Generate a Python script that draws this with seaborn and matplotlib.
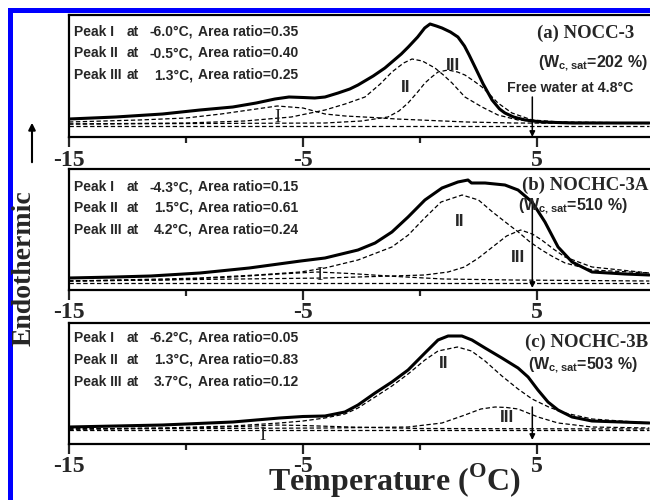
import matplotlib
matplotlib.use('Agg')
import matplotlib.pyplot as plt
import seaborn as sns
from matplotlib.patches import Rectangle, FancyArrowPatch

sns.set_style('white')
plt.rcParams['font.family'] = ['Liberation Sans', 'DejaVu Sans']
plt.rcParams['mathtext.fontset'] = 'custom'
plt.rcParams['mathtext.rm'] = 'Liberation Sans:bold'
plt.rcParams['mathtext.bf'] = 'Liberation Serif:bold'

# ---------------- data (temperature in degC, heat flow in arbitrary units) ----------------
# Panel (a) NOCC-3
a_total_T = [-15, -13, -11, -9.4, -8, -7, -6.2, -5.6, -5.0, -4.5, -4.06, -3.5, -3.0, -2.65, -2.0, -1.5, -1.2, -0.8,
             -0.5, -0.1, 0.2, 0.43, 0.7, 0.94, 1.3, 1.62, 1.9, 2.1, 2.35, 2.7, 3.08, 3.4, 3.63, 4.0, 4.49, 5.2, 6.5, 9.8]
a_total_Y = [18, 20, 23, 27, 30, 34, 38, 40, 39.5, 39, 40, 44, 48, 52, 61, 69, 75, 83,
             90, 100, 109, 113, 111, 109, 105, 100, 91, 82, 70, 53, 37, 28, 24, 20, 17, 15, 14, 14]
a_p1_T = [-15, -12, -10, -8.5, -7.3, -6.1, -5.0, -4.06, -3.2, -2, -1, 0.5, 2, 4, 9.8]
a_p1_Y = [15, 17, 19, 23, 27, 31, 29, 23, 21, 19.5, 18, 16.5, 15, 14, 13.5]
a_p2_T = [-15, -10, -7.5, -5.5, -4.06, -3.2, -2.35, -1.7, -1.2, -0.7, -0.34, 0.1, 0.64, 1.0, 1.37, 1.92, 2.65, 3.33, 4.19, 5.5, 9.8]
a_p2_Y = [13, 14, 16, 20, 27, 33, 40, 53, 65, 74, 78, 76, 69, 62, 54, 40, 30, 22, 17, 15, 14]
a_p3_T = [-15, -4.06, -2.5, -1.37, -0.9, -0.51, -0.1, 0.21, 0.5, 0.77, 1.2, 1.6, 1.92, 2.3, 2.65, 3.0, 3.33, 3.93, 4.79, 6, 9.8]
a_p3_Y = [13, 14, 16, 20, 26, 34, 45, 54, 60, 65, 67, 65, 62, 56, 50, 42, 34, 24, 17, 15, 14]
a_base_T = [-15, 9.8]
a_base_Y = [11, 11]

# Panel (b) NOCHC-3A
b_total_T = [-15, -13, -11.5, -9.4, -7.3, -5.1, -4.06, -2.65, -1.92, -1.2, -0.51, 0.21, 0.94, 1.62, 2.05, 2.2,
             2.78, 3.63, 4.19, 4.79, 5.34, 5.9, 6.5, 7.35, 8.76, 9.8]
b_total_Y = [12, 13, 14, 17, 22, 29, 32, 40, 47, 58, 73, 90, 102, 108, 110, 107,
             107, 105, 100, 88, 68, 43, 28, 18, 16, 15]
b_p1_T = [-15, -11, -8, -6, -4.4, -3, -1, 1, 4, 9.8]
b_p1_Y = [9, 10, 13, 16, 18, 16.5, 13.5, 11, 10, 9]
b_p2_T = [-15, -11, -9.4, -7, -5.1, -4.06, -2.65, -1.2, -0.5, 0.2, 0.9, 1.8, 2.5, 3.1, 3.7, 4.2, 4.7, 5.2, 5.7, 6.2, 7.35, 9.8]
b_p2_Y = [9, 11, 12, 15, 18, 22, 30, 43, 55, 72, 88, 95, 90, 78, 67, 58, 48, 40, 33, 27, 20, 17]
b_p3_T = [-15, -4.06, 0.2, 1.2, 1.9, 2.5, 3.1, 3.7, 4.3, 4.8, 5.2, 5.7, 6.2, 7.35, 9.8]
b_p3_Y = [9, 12, 15, 18, 23, 32, 43, 54, 60, 56, 50, 41, 33, 23, 17]
b_base_T = [-15, 9.8]
b_base_Y = [7, 7]

# Panel (c) NOCHC-3B
c_total_T = [-15, -11, -8, -6, -5, -4.06, -3.21, -2.65, -1.92, -1.2, -0.51, 0.21, 0.77, 1.2, 1.79, 2.22, 2.78,
             3.5, 4.19, 4.62, 5.04, 5.47, 5.9, 6.5, 7.35, 9.8]
c_total_Y = [17, 19, 22, 26, 27.5, 28, 32, 39, 51, 62, 74, 91, 104, 108, 108, 104, 96,
             86, 76, 67, 54, 42, 34, 27, 23, 21]
c_p1_T = [-15, -10, -7, -6.2, -5, -3, 0, 9.8]
c_p1_Y = [15, 16, 18, 19, 18.5, 17, 15.5, 15]
c_p2_T = [-15, -11, -8, -6, -5, -4.06, -3.21, -2.65, -1.92, -1.2, -0.51, 0.21, 0.77, 1.6, 2.2, 2.78, 3.5, 4.19,
          4.79, 5.5, 6.2, 7.35, 9.8]
c_p2_Y = [15, 16, 18, 21, 23, 26, 30, 36, 47, 58, 70, 84, 93, 97, 93, 83, 68, 55,
          45, 37, 31, 25, 21]
c_p3_T = [-15, -4, -0.51, 0.94, 1.92, 2.6, 3.21, 3.7, 4.19, 5.04, 5.9, 7.35, 9.8]
c_p3_Y = [15, 16, 17, 21, 29, 35, 37, 36.5, 35, 27, 21, 17, 16]
c_base_T = [-15, 9.8]
c_base_Y = [14, 14]

panel_titles = ['(a) NOCC-3', '(b) NOCHC-3A', '(c) NOCHC-3B']
wc_sat = ['202', '510', '503']
peak_names = ['Peak I', 'Peak II', 'Peak III']
a_peak_temps = ['-6.0', '-0.5', '1.3']
a_area_ratios = ['0.35', '0.40', '0.25']
b_peak_temps = ['-4.3', '1.5', '4.2']
b_area_ratios = ['0.15', '0.61', '0.24']
c_peak_temps = ['-6.2', '1.3', '3.7']
c_area_ratios = ['0.05', '0.83', '0.12']
free_water_T = 4.8
roman = ['I', 'II', 'III']
a_roman_pos = [(-6.1, 20), (-0.6, 49), (1.4, 72)]
b_roman_pos = [(-4.3, 14), (1.7, 68), (4.2, 33)]
c_roman_pos = [(-6.75, 9), (1.0, 81), (3.7, 26)]
x_major = [-15, -5, 5]
x_minor = [-10, 0]

# ---------------- figure ----------------
W, H = 650, 500
fig = plt.figure(figsize=(6.5, 5.0), dpi=100)
fig.patch.set_facecolor('white')


def fx(px):
    return px / W


def fy(py):
    return 1 - py / H


# blue frame
fig.add_artist(Rectangle((fx(8), 0), fx(5), fy(8), transform=fig.transFigure, color='#0000ff', lw=0))
fig.add_artist(Rectangle((fx(8), fy(13)), 1 - fx(8), fy(8) - fy(13), transform=fig.transFigure, color='#0000ff', lw=0))

panels = [
    dict(total=(a_total_T, a_total_Y), peaks=[(a_p1_T, a_p1_Y), (a_p2_T, a_p2_Y), (a_p3_T, a_p3_Y)],
         base=(a_base_T, a_base_Y), temps=a_peak_temps, ratios=a_area_ratios, rpos=a_roman_pos,
         top=15, bottom=137, text_y=[32, 53, 75], title_y=33, wc_y=63, arrow=(97, 137), title_x=537, wc_x=538),
    dict(total=(b_total_T, b_total_Y), peaks=[(b_p1_T, b_p1_Y), (b_p2_T, b_p2_Y), (b_p3_T, b_p3_Y)],
         base=(b_base_T, b_base_Y), temps=b_peak_temps, ratios=b_area_ratios, rpos=b_roman_pos,
         top=169, bottom=290, text_y=[187, 208, 230], title_y=185, wc_y=206, arrow=(203, 288), title_x=522, wc_x=518),
    dict(total=(c_total_T, c_total_Y), peaks=[(c_p1_T, c_p1_Y), (c_p2_T, c_p2_Y), (c_p3_T, c_p3_Y)],
         base=(c_base_T, c_base_Y), temps=c_peak_temps, ratios=c_area_ratios, rpos=c_roman_pos,
         top=323, bottom=444, text_y=[338, 360, 382], title_y=342, wc_y=365, arrow=(407, 440), title_x=525, wc_x=528),
]

x0 = -15
x1 = -15 + (650 - 69) / 23.4
sans_bold = dict(family='Liberation Sans', weight='bold')
serif_bold = dict(family='Liberation Serif', weight='bold')

for i, p in enumerate(panels):
    ax = fig.add_axes([fx(69), fy(p['bottom']), 1 - fx(69), (p['bottom'] - p['top']) / H])
    hgt = p['bottom'] - p['top']
    ax.set_xlim(x0, x1)
    ax.set_ylim(0, hgt)
    for (t, y) in p['peaks'] + [p['base']]:
        sns.lineplot(x=t, y=y, ax=ax, color='black', lw=0.9, linestyle=(0, (3.5, 2)), sort=False)
    sns.lineplot(x=p['total'][0], y=p['total'][1], ax=ax, color='black', lw=2.2, sort=False)

    ax.spines['right'].set_visible(False)
    for s in ['left', 'top', 'bottom']:
        ax.spines[s].set_linewidth(1.6)
        ax.spines[s].set_color('black')
    ax.set_yticks([])
    ax.set_xticks(x_major)
    ax.set_xticks(x_minor, minor=True)
    ax.tick_params(axis='x', which='major', direction='out', length=7, width=1.6, pad=2, bottom=True)
    ax.tick_params(axis='x', which='minor', direction='out', length=4, width=1.6, bottom=True)
    ax.set_xticklabels([str(v) for v in x_major], fontdict=dict(family='Liberation Serif', weight='bold', size=17))
    ax.set_xlabel('')
    ax.set_ylabel('')

    # peak info table
    for k in range(3):
        yy = fy(p['text_y'][k])
        fig.text(fx(74), yy, peak_names[k], ha='left', va='center', size=10, **sans_bold)
        fig.text(fx(127), yy, 'at', ha='left', va='center', size=10, **sans_bold)
        fig.text(fx(193), yy, p['temps'][k] + '°C,', ha='right', va='center', size=10, **sans_bold)
        fig.text(fx(198), yy, 'Area ratio=' + p['ratios'][k], ha='left', va='center', size=10, **sans_bold)

    # panel titles
    fig.text(fx(p['title_x']), fy(p['title_y']), panel_titles[i], ha='left', va='center', size=13.5, **serif_bold)
    fig.text(fx(p['wc_x']), fy(p['wc_y']), r'(W$_{\mathrm{c,sat}}$=' + wc_sat[i] + ' %)',
             ha='left', va='center', size=11.5, **sans_bold)

    # roman numeral labels
    for k in range(3):
        tx, ty = p['rpos'][k]
        if k == 0:
            ax.text(tx, ty, roman[k], ha='center', va='center', size=13.5, family='Liberation Serif')
        else:
            ax.text(tx, ty, roman[k], ha='center', va='center', size=12.5, **sans_bold)

    # free water arrow
    ya, yb = p['arrow']
    ax.annotate('', xy=(free_water_T, p['bottom'] - yb), xytext=(free_water_T, p['bottom'] - ya),
                arrowprops=dict(arrowstyle='-|>', color='black', lw=1.1, mutation_scale=8,
                                shrinkA=0, shrinkB=0))

fig.text(fx(507), fy(88), 'Free water at 4.8°C', ha='left', va='center', size=10.2, **sans_bold)

# axis titles
fig.text(fx(394), fy(481), r'Temperature ($^{\mathbf{O}}$C)', ha='center', va='center', size=23, **serif_bold)
fig.text(fx(24), fy(268), 'Endothermic', ha='center', va='center', rotation=90, size=20, **serif_bold)
fig.add_artist(FancyArrowPatch((fx(32), fy(165)), (fx(32), fy(120)),
               transform=fig.transFigure, arrowstyle='-|>', mutation_scale=10, lw=1.5, color='black'))

fig.savefig('out.png', dpi=100)
